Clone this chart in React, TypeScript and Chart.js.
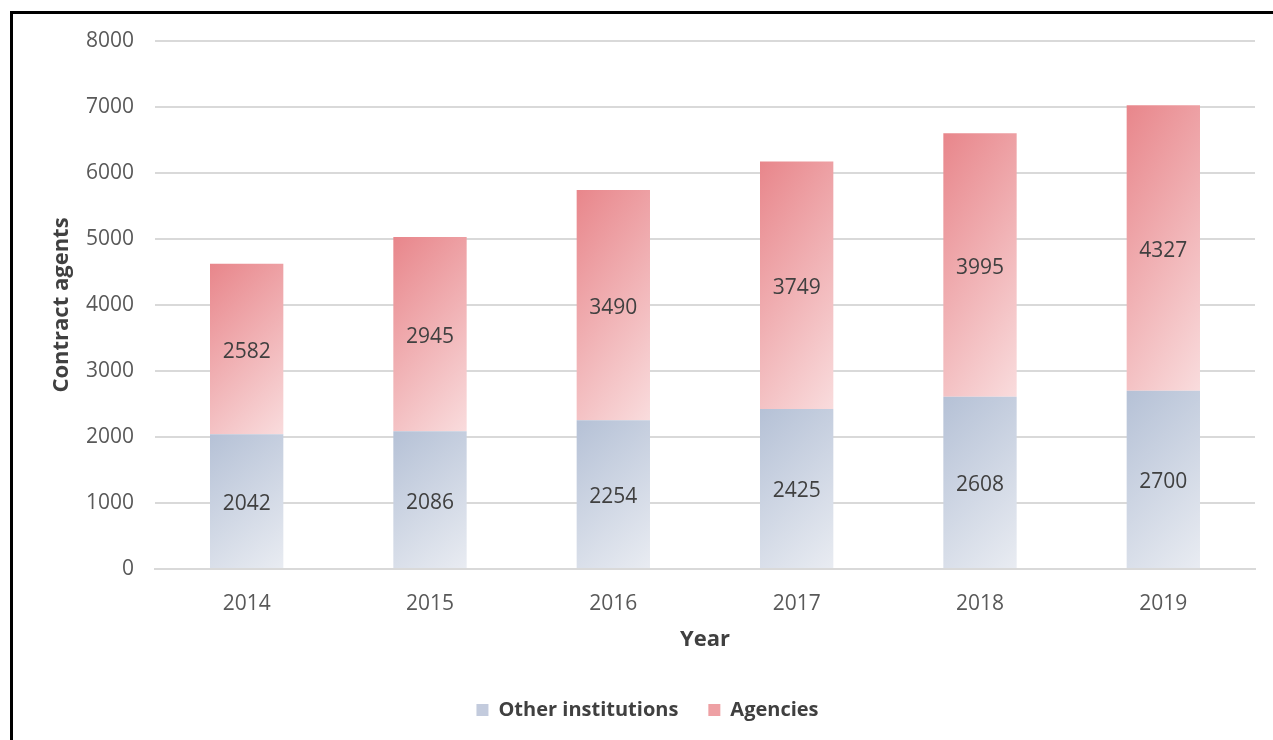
import React, { useEffect, useRef } from "react";
import { Chart, registerables } from "chart.js";

Chart.register(...registerables);

const years = ["2014", "2015", "2016", "2017", "2018", "2019"];
const otherInstitutions = [2042, 2086, 2254, 2425, 2608, 2700];
const agencies = [2582, 2945, 3490, 3749, 3995, 4327];
const seriesNames = ["Other institutions", "Agencies"];
const yTicks = [0, 1000, 2000, 3000, 4000, 5000, 6000, 7000, 8000];

const FONT = "'Open Sans', 'DejaVu Sans', sans-serif";
const BAR_PCT = 0.4;

function barGradient(ctx: any, from: string, to: string, fallback: string) {
  const chart = ctx.chart;
  if (ctx.type !== "data" || !chart.chartArea) return fallback;
  const xs = chart.scales.x;
  const ys = chart.scales.y;
  if (!xs || !ys) return fallback;
  const i = ctx.dataIndex;
  const cx = xs.getPixelForValue(i);
  const w = (xs.width / years.length) * BAR_PCT;
  let lo = 0;
  let hi = otherInstitutions[i];
  if (ctx.datasetIndex === 1) {
    lo = otherInstitutions[i];
    hi = otherInstitutions[i] + agencies[i];
  }
  const top = ys.getPixelForValue(hi);
  const bottom = ys.getPixelForValue(lo);
  const h = Math.max(1, bottom - top);
  const hx = 0.3;
  const vy = 0.7;
  const L2 = 1 / ((hx * hx) / (w * w) + (vy * vy) / (h * h));
  const dx = (hx * L2) / w;
  const dy = (vy * L2) / h;
  const x0 = cx - w / 2;
  const g = chart.ctx.createLinearGradient(x0, top, x0 + dx, top + dy);
  g.addColorStop(0, from);
  g.addColorStop(1, to);
  return g;
}

const valueLabels = {
  id: "valueLabels",
  afterDatasetsDraw(chart: any) {
    const c = chart.ctx;
    c.save();
    c.font = `21px ${FONT}`;
    c.fillStyle = "#404040";
    c.textAlign = "center";
    c.textBaseline = "middle";
    chart.data.datasets.forEach((ds: any, di: number) => {
      const meta = chart.getDatasetMeta(di);
      meta.data.forEach((el: any, i: number) => {
        const p = el.getCenterPoint();
        c.fillText(String(ds.data[i]), p.x, p.y + 3);
      });
    });
    c.restore();
  },
};

export default function App() {
  const ref = useRef<HTMLCanvasElement | null>(null);

  useEffect(() => {
    if (!ref.current) return;
    const chart = new Chart(ref.current, {
      type: "bar",
      data: {
        labels: years,
        datasets: [
          {
            label: seriesNames[0],
            data: otherInstitutions,
            backgroundColor: (ctx: any) => barGradient(ctx, "#b5c1d6", "#e9ecf2", "#c8d0e0"),
            borderWidth: 0,
            barPercentage: BAR_PCT,
            categoryPercentage: 1,
          },
          {
            label: seriesNames[1],
            data: agencies,
            backgroundColor: (ctx: any) => barGradient(ctx, "#e8868b", "#f9dcdd", "#f0a8ab"),
            borderWidth: 0,
            barPercentage: BAR_PCT,
            categoryPercentage: 1,
          },
        ],
      },
      options: {
        responsive: true,
        maintainAspectRatio: false,
        animation: false,
        layout: { padding: { left: 40, right: 18, top: 41, bottom: 10 } },
        plugins: {
          tooltip: { enabled: false },
          legend: {
            position: "bottom",
            labels: {
              boxWidth: 12,
              boxHeight: 12,
              padding: 30,
              color: "#404040",
              font: { family: FONT, size: 20, weight: "bold" },
              generateLabels: () => [
                { text: seriesNames[0], fillStyle: "#c3cbdd", strokeStyle: "#c3cbdd", lineWidth: 0, datasetIndex: 0, fontColor: "#404040" },
                { text: seriesNames[1], fillStyle: "#eea0a4", strokeStyle: "#eea0a4", lineWidth: 0, datasetIndex: 1, fontColor: "#404040" },
              ],
            },
          },
        },
        scales: {
          x: {
            stacked: true,
            grid: { display: false },
            border: { display: true, color: "#d9d9d9", width: 2 },
            ticks: { color: "#595959", font: { family: FONT, size: 21 }, padding: 14 },
            title: {
              display: true,
              text: "Year",
              color: "#404040",
              font: { family: FONT, size: 22, weight: "bold" },
              padding: { top: 0, bottom: 17 },
            },
            afterFit: (s: any) => {
              s.height = 101;
            },
          },
          y: {
            stacked: true,
            min: 0,
            max: 8000,
            afterBuildTicks: (s: any) => {
              s.ticks = yTicks.map((v) => ({ value: v }));
            },
            grid: { color: "#d9d9d9", lineWidth: 2, drawTicks: false },
            border: { display: false },
            ticks: {
              color: "#595959",
              font: { family: FONT, size: 21 },
              padding: 21,
              callback: (v: any) => String(v),
            },
            title: {
              display: true,
              text: "Contract agents",
              color: "#404040",
              font: { family: FONT, size: 22, weight: "bold" },
              padding: { top: 9, bottom: 0 },
            },
            afterFit: (s: any) => {
              s.width = 115;
            },
          },
        },
      },
      plugins: [valueLabels],
    });
    return () => chart.destroy();
  }, []);

  return (
    <div style={{ position: "fixed", left: 0, top: 0, width: 1273, height: 740, background: "#fff", overflow: "hidden" }}>
      <canvas ref={ref} />
      <div
        style={{
          position: "absolute",
          left: 10,
          top: 11,
          width: 1400,
          height: 900,
          borderTop: "3px solid #000",
          borderLeft: "3px solid #000",
          pointerEvents: "none",
        }}
      />
    </div>
  );
}
